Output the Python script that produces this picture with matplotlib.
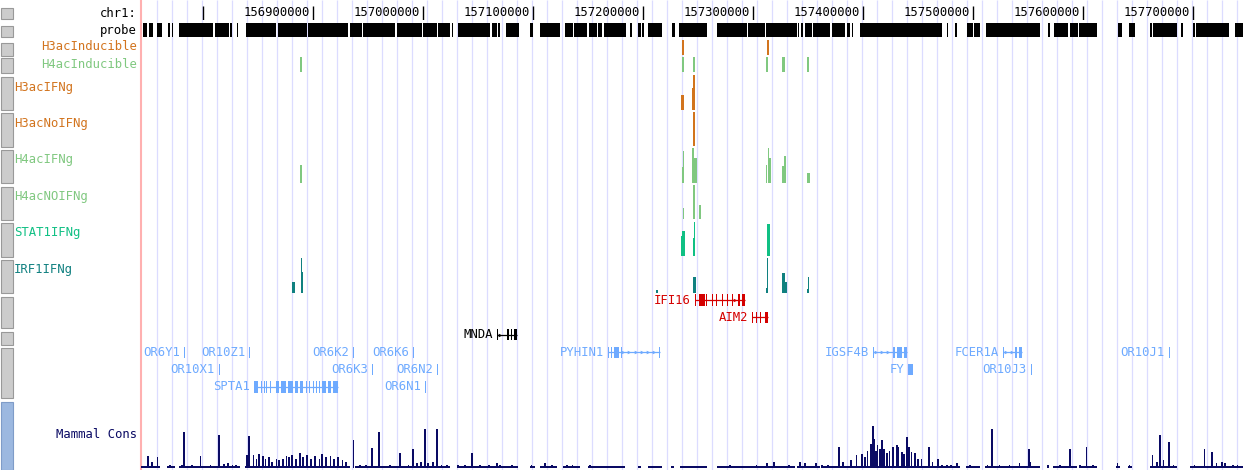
import numpy as np
import matplotlib
matplotlib.use("Agg")
import matplotlib.pyplot as plt
from matplotlib.patches import Rectangle

# ---- data (positions in kb on chr1) ----
view_start, view_end = 156743.6, 157745.5

probe_blocks = [
    (156745.5, 156749.1), (156750.9, 156754.5), (156758.2, 156762.7), (156768.2, 156770.0),
    (156771.8, 156772.7), (156778.2, 156809.1), (156810.9, 156823.6), (156824.5, 156826.4),
    (156830.9, 156831.8), (156839.1, 156866.4), (156868.2, 156894.5), (156895.5, 156931.8),
    (156933.6, 156944.5), (156945.5, 156974.5), (156976.4, 156999.1), (157000.0, 157012.7),
    (157013.6, 157024.5), (157026.4, 157027.3), (157031.8, 157060.9), (157062.7, 157067.3),
    (157068.2, 157070.0), (157075.5, 157087.3), (157097.3, 157100.0), (157106.4, 157124.5),
    (157129.1, 157136.4), (157137.3, 157149.1), (157150.9, 157158.2), (157159.1, 157162.7),
    (157164.5, 157184.5), (157188.2, 157190.0), (157195.5, 157198.2), (157199.1, 157200.5),
    (157204.5, 157217.3), (157226.4, 157229.1), (157232.7, 157258.2), (157267.3, 157294.5),
    (157295.5, 157310.9), (157311.8, 157340.0), (157340.9, 157341.8), (157343.6, 157345.5),
    (157347.3, 157353.6), (157354.5, 157370.0), (157371.8, 157383.6), (157385.5, 157388.2),
    (157390.0, 157390.9), (157397.3, 157471.8), (157476.4, 157477.3), (157483.6, 157485.5),
    (157494.5, 157500.0), (157500.9, 157506.4), (157511.8, 157560.9), (157568.2, 157570.0),
    (157573.6, 157586.4), (157588.2, 157595.5), (157596.4, 157612.7), (157631.8, 157635.5),
    (157641.8, 157647.3), (157660.9, 157662.7), (157663.6, 157685.5), (157689.1, 157690.9),
    (157700.0, 157701.8), (157702.7, 157732.7), (157738.2, 157745.5),
]

# signal tracks: (centre kb, width kb, relative height)
h3ac_inducible = [(157236.4, 1.4, 1.0), (157313.6, 1.4, 1.0)]
h4ac_inducible = [(156889.1, 1.0, 1.0), (157236.4, 1.8, 1.0), (157246.4, 1.8, 1.0),
                  (157312.7, 1.4, 1.0), (157327.7, 2.7, 1.0), (157350.0, 1.4, 1.0)]
h3ac_ifng = [(157235.9, 2.7, 0.43), (157244.9, 0.9, 0.63), (157246.8, 1.8, 1.0)]
h3ac_noifng = [(157246.8, 1.8, 1.0), (157245.5, 0.9, 0.41)]
h4ac_ifng = [(156889.1, 1.8, 0.51), (157236.8, 1.4, 0.91), (157235.5, 0.9, 0.46),
             (157245.5, 1.8, 1.0), (157247.7, 2.3, 0.71), (157314.1, 1.8, 1.0),
             (157312.7, 0.9, 0.51), (157315.5, 1.4, 0.71), (157329.1, 1.4, 0.77),
             (157327.3, 1.8, 0.49), (157350.5, 2.3, 0.29)]
h4ac_noifng = [(157246.4, 1.8, 1.0), (157236.4, 0.9, 0.32), (157251.8, 1.8, 0.41)]
stat1_ifng = [(157236.4, 2.7, 0.74), (157235.0, 0.9, 0.6), (157246.8, 1.4, 1.0),
              (157245.9, 1.4, 0.53), (157314.1, 2.7, 0.94)]
irf1_ifng = [(156889.1, 0.9, 1.0), (156890.0, 1.8, 0.6), (156882.3, 2.7, 0.31),
             (157212.7, 1.4, 0.1), (157246.4, 2.7, 0.46), (157313.6, 0.9, 1.0),
             (157312.7, 1.8, 0.14), (157327.7, 2.3, 0.57), (157330.0, 1.8, 0.31),
             (157350.9, 0.9, 0.46), (157350.0, 2.3, 0.11)]

track_names = ["H3acInducible", "H4acInducible", "H3acIFNg", "H3acNoIFNg",
               "H4acIFNg", "H4acNOIFNg", "STAT1IFNg", "IRF1IFNg"]
track_data = [h3ac_inducible, h4ac_inducible, h3ac_ifng, h3ac_noifng,
              h4ac_ifng, h4ac_noifng, stat1_ifng, irf1_ifng]

# genes: name, row, strand, exons (kb)
gene_names = ["IFI16", "AIM2", "MNDA", "OR6Y1", "OR10Z1", "OR6K2", "OR6K6", "PYHIN1",
              "IGSF4B", "FCER1A", "OR10J1", "OR10X1", "OR6K3", "OR6N2", "FY", "OR10J3",
              "SPTA1", "OR6N1"]
gene_rows = [0, 1, 2, 3, 3, 3, 3, 3, 3, 3, 3, 4, 4, 4, 4, 4, 5, 5]
gene_strands = ["+", "-", "+", "+", "+", "+", "+", "+", "+", "+", "+", "+", "+", "+", "+", "+", "+", "+"]
gene_exons = [
    [(157247.3, 157248.2), (157250.9, 157256.4), (157257.7, 157258.6), (157262.3, 157263.2),
     (157266.8, 157267.7), (157271.4, 157272.3), (157276.0, 157276.9), (157280.5, 157281.4),
     (157286.4, 157288.2), (157290.0, 157292.7)],
    [(157299.1, 157300.0), (157302.7, 157303.6), (157306.4, 157307.3), (157310.9, 157313.6)],
    [(157067.3, 157068.2), (157076.4, 157078.2), (157080.0, 157080.9), (157082.7, 157085.5)],
    [(156782.7, 156783.7)],
    [(156841.8, 156842.8)],
    [(156936.4, 156937.4)],
    [(156990.9, 156991.9)],
    [(157168.2, 157169.1), (157170.9, 157171.8), (157173.6, 157178.2), (157179.6, 157180.5),
     (157214.5, 157215.5)],
    [(157409.1, 157410.0), (157427.3, 157429.1), (157430.9, 157435.5), (157437.3, 157440.0)],
    [(157527.3, 157528.2), (157538.2, 157540.0), (157541.8, 157544.5)],
    [(157678.2, 157679.2)],
    [(156814.5, 156815.5)],
    [(156953.6, 156954.6)],
    [(157012.7, 157013.7)],
    [(157440.9, 157445.5)],
    [(157552.7, 157553.7)],
    [(156846.4, 156850.0), (156852.3, 156853.2), (156855.0, 156855.9), (156857.7, 156858.6),
     (156860.5, 156861.4), (156866.4, 156869.1), (156870.9, 156875.5), (156877.3, 156881.8),
     (156883.6, 156886.4), (156888.2, 156890.9), (156893.2, 156894.1), (156895.9, 156896.8),
     (156899.6, 156900.5), (156902.3, 156903.2), (156905.0, 156905.9), (156908.2, 156911.8),
     (156913.6, 156916.4), (156918.2, 156922.7)],
    [(157001.8, 157002.8)],
]
gene_groups = ["red", "red", "black", "blue", "blue", "blue", "blue", "blue", "blue", "blue",
               "blue", "blue", "blue", "blue", "blue", "blue", "blue", "blue"]

# Mammal conservation: peaks (kb, score) and covered stretches
cons_pos = [156750.0, 156753.6, 156758.2, 156770.0, 156780.9, 156782.7, 156790.0, 156797.3,
            156806.4, 156814.5, 156819.1, 156822.7, 156826.4, 156830.0, 156840.0, 156841.8,
            156845.5, 156848.2, 156850.9, 156854.5, 156856.4, 156860.0, 156862.7, 156866.4,
            156869.1, 156872.7, 156875.5, 156878.2, 156880.9, 156884.5, 156888.2, 156890.9,
            156894.5, 156898.2, 156901.8, 156905.5, 156908.2, 156911.8, 156915.5, 156919.1,
            156922.7, 156926.4, 156930.0, 156936.4, 156942.7, 156948.2, 156953.6, 156960.0,
            156970.0, 156979.1, 156986.4, 156990.9, 156994.5, 156998.2, 157001.8, 157004.5,
            157009.1, 157012.7, 157016.4, 157021.8, 157031.8, 157038.2, 157044.5, 157051.8,
            157060.0, 157067.3, 157070.0, 157080.9, 157099.0, 157110.9, 157117.3, 157130.9,
            157135.5, 157151.8, 157279.1, 157303.6, 157312.7, 157319.1, 157332.7, 157342.7,
            157347.3, 157357.3, 157362.7, 157368.2, 157378.2, 157381.8, 157389.1, 157394.5,
            157399.1, 157401.8, 157404.5, 157407.3, 157409.1, 157410.0, 157411.8, 157413.6,
            157415.5, 157417.3, 157419.1, 157421.8, 157424.5, 157427.3, 157430.9, 157432.7,
            157435.5, 157437.3, 157440.0, 157441.8, 157444.5, 157447.3, 157450.0, 157453.6,
            157460.0, 157463.6, 157468.2, 157471.8, 157476.4, 157480.0, 157485.5, 157497.3,
            157513.6, 157517.3, 157524.5, 157533.6, 157542.7, 157550.9, 157552.7, 157568.2,
            157579.1, 157588.2, 157597.3, 157603.6, 157609.1, 157631.8, 157642.7, 157663.6,
            157667.3, 157670.0, 157673.6, 157678.2, 157682.7, 157701.8, 157710.9, 157717.3,
            157721.8, 157726.4, 157729.1, 157736.4, 157740.9]
cons_val = [0.28, 0.12, 0.24, 0.07, 0.07, 0.83, 0.07, 0.26,
            0.05, 0.76, 0.08, 0.10, 0.06, 0.07, 0.30, 0.74,
            0.29, 0.19, 0.31, 0.26, 0.19, 0.24, 0.14, 0.19,
            0.17, 0.21, 0.26, 0.24, 0.29, 0.21, 0.33, 0.24,
            0.29, 0.21, 0.26, 0.21, 0.31, 0.24, 0.26, 0.19,
            0.24, 0.17, 0.12, 0.64, 0.07, 0.07, 0.45, 0.83,
            0.05, 0.33, 0.05, 0.43, 0.10, 0.12, 0.90, 0.10,
            0.12, 0.90, 0.07, 0.05, 0.05, 0.07, 0.33, 0.07,
            0.05, 0.10, 0.07, 0.05, 0.05, 0.10, 0.05, 0.05,
            0.05, 0.07, 0.07, 0.07, 0.10, 0.12, 0.05, 0.14,
            0.10, 0.10, 0.07, 0.07, 0.48, 0.14, 0.17, 0.29,
            0.31, 0.24, 0.40, 0.55, 0.98, 0.67, 0.38, 0.52,
            0.43, 0.64, 0.43, 0.33, 0.38, 0.48, 0.52, 0.48,
            0.36, 0.31, 0.71, 0.48, 0.36, 0.33, 0.19, 0.21,
            0.48, 0.12, 0.19, 0.07, 0.07, 0.05, 0.10, 0.05,
            0.07, 0.90, 0.07, 0.07, 0.10, 0.43, 0.14, 0.05,
            0.05, 0.43, 0.07, 0.48, 0.07, 0.10, 0.07, 0.29,
            0.14, 0.76, 0.17, 0.60, 0.07, 0.07, 0.43, 0.36,
            0.10, 0.14, 0.10, 0.07, 0.07]
cons_cover = [(156743.6, 156760.9), (156767.3, 156774.5), (156778.2, 156833.6), (156838.2, 156933.6),
              (156938.2, 157024.5), (157030.9, 157086.4), (157097.3, 157101.8), (157106.4, 157121.8),
              (157127.3, 157142.7), (157150.0, 157183.6), (157195.5, 157198.2), (157204.5, 157217.3),
              (157225.5, 157228.2), (157233.6, 157258.2), (157267.3, 157338.2), (157340.0, 157360.9),
              (157362.7, 157488.2), (157493.6, 157506.4), (157510.9, 157560.9), (157567.3, 157569.1),
              (157572.7, 157594.5), (157596.4, 157612.7), (157630.0, 157633.6), (157640.9, 157644.5),
              (157660.9, 157685.5), (157697.3, 157745.5)]

# ---- styling / layout ----
W, H = 1243, 470
FONT = "DejaVu Sans Mono"
FS = 8.8
ORANGE = "#d2741e"
LGREEN = "#80c880"
TEAL_GREEN = "#10c084"
TEAL = "#108080"
NAVY = "#0a0a64"
track_colors = [ORANGE, LGREEN, ORANGE, ORANGE, LGREEN, LGREEN, TEAL_GREEN, TEAL]
track_rows = [(40, 55), (57, 72), (75, 110), (112, 146), (148, 183), (185, 219), (222, 256), (258, 293)]
group_colors = {"red": "#d40000", "black": "#000000", "blue": "#6eaaff"}

fig = plt.figure(figsize=(W / 100, H / 100), dpi=100)


def px_axes(left, top, right, bottom):
    ax = fig.add_axes([left / W, 1 - bottom / H, (right - left) / W, (bottom - top) / H])
    ax.set_facecolor("none")
    ax.set_axis_off()
    ax.set_xlim(view_start, view_end)
    return ax


# background grid lines
bg = px_axes(141, 0, W, H)
bg.set_ylim(0, 1)
grid = np.arange(view_start + 14.3, view_end, 13.636)
bg.vlines(grid, 0, 1, color="#dcdcff", lw=0.9)
bg.axvline(view_start, color="#ffb0b0", lw=1.5, clip_on=False)

# left label panel with buttons
lp = fig.add_axes([0, 0, 141 / W, 1])
lp.set_xlim(0, 141)
lp.set_ylim(H, 0)
lp.set_axis_off()
buttons = [(8, 19), (26, 37), (43, 56), (58, 73), (77, 110), (113, 147), (150, 183),
           (187, 220), (223, 257), (260, 293), (297, 328), (332, 345), (348, 398)]
for top, bot in buttons:
    lp.add_patch(Rectangle((1, top), 12, bot - top, fc="#cccccc", ec="#999999", lw=0.8))
lp.add_patch(Rectangle((1, 402), 12, 68, fc="#9cb8e0", ec="#7f9cc8", lw=0.8))

right_labels = [("chr1:", "black", 13.5), ("probe", "black", 30.5),
                ("H3acInducible", ORANGE, 46.5), ("H4acInducible", LGREEN, 64.5),
                ("Mammal Cons", NAVY, 434)]
for txt, col, y in right_labels:
    lp.text(137, y, txt, ha="right", va="center", color=col, fontsize=FS, family=FONT)
left_ys = [87.5, 124, 160, 196.5, 232.5, 269.5]
for txt, col, y in zip(track_names[2:], track_colors[2:], left_ys):
    lp.text(14, y, txt, ha="left", va="center", color=col, fontsize=FS, family=FONT)

# ruler
ra = px_axes(141, 6, W, 20)
ra.set_ylim(0, 1)
ticks = np.arange(156800, view_end, 100)
ra.vlines(ticks, 0, 1, color="black", lw=1)
for t in ticks:
    if t - view_start > 75:
        ra.annotate(f"{int(round(t * 1000))}", xy=(t, 0.5), xytext=(-3, 0),
                    textcoords="offset pixels", ha="right", va="center",
                    fontsize=FS, family=FONT, color="black")

# probe blocks
pa = px_axes(141, 23, W, 37)
pa.set_ylim(0, 1)
pa.broken_barh([(s, e - s) for s, e in probe_blocks], (0, 1), color="black", lw=0,
               antialiased=False)

# signal tracks
for bars, col, (top, bot) in zip(track_data, track_colors, track_rows):
    ax = px_axes(141, top, W, bot)
    ax.set_ylim(0, 1)
    xs = [b[0] for b in bars]
    ws = [b[1] for b in bars]
    hs = [b[2] for b in bars]
    ax.bar(xs, hs, width=ws, color=col, linewidth=0, antialiased=False)

# genes
ga = px_axes(141, 291.3, W, 395.7)
ga.set_ylim(5.5, -0.5)
for name, row, strand, exons, grp in zip(gene_names, gene_rows, gene_strands, gene_exons, gene_groups):
    col = group_colors[grp]
    start = exons[0][0]
    end = exons[-1][1]
    if len(exons) > 1:
        ga.hlines(row, start, end, color=col, lw=0.9)
        marks = [m for m in np.arange(start + 3, end - 1.5, 5.5)
                 if not any(s - 1 <= m <= e + 1 for s, e in exons)]
        ga.plot(marks, [row] * len(marks), ls="none", marker=">" if strand == "+" else "<",
                ms=2.6, color=col, mew=0)
    ga.broken_barh([(s, e - s) for s, e in exons], (row - 0.32, 0.64), color=col,
                   lw=0, antialiased=False)
    ga.annotate(name, xy=(start, row), xytext=(-4, 0), textcoords="offset pixels",
                ha="right", va="center", color=col, fontsize=FS, family=FONT)

# mammal conservation
ca = px_axes(141, 425, W, 467.5)
ca.set_ylim(0, 1)
ca.broken_barh([(s, e - s) for s, e in cons_cover], (0, 0.035), color=NAVY, lw=0,
               antialiased=False)
ca.bar(cons_pos, cons_val, width=1.0, color=NAVY, linewidth=0, antialiased=False,
       align="center")

fig.savefig("out.png", dpi=100)
